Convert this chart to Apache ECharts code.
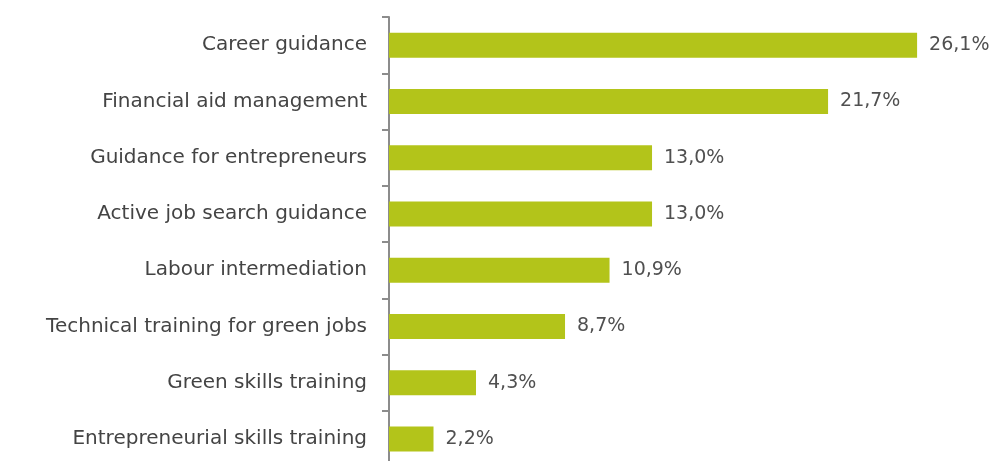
<!DOCTYPE html>
<html>
<head>
<meta charset="utf-8">
<script src="https://cdn.jsdelivr.net/npm/echarts@6/dist/echarts.min.js"></script>
<style>
html,body{margin:0;padding:0;background:#fff;}
#chart{width:994px;height:461px;}
</style>
</head>
<body>
<div id="chart"></div>
<script>
var categories = [
    'Career guidance',
    'Financial aid management',
    'Guidance for entrepreneurs',
    'Active job search guidance',
    'Labour intermediation',
    'Technical training for green jobs',
    'Green skills training',
    'Entrepreneurial skills training'
];
var values = [26.1, 21.7, 13.0, 13.0, 10.9, 8.7, 4.3, 2.2];

var myChart = echarts.init(document.getElementById('chart'));
var option = {
    animation: false,
    grid: {
        left: 389,
        top: 17,
        width: 607,
        height: 450,
        outerBoundsMode: 'none',
        containLabel: false
    },
    xAxis: {
        type: 'value',
        min: 0,
        max: 30,
        show: false
    },
    yAxis: {
        type: 'category',
        inverse: true,
        data: categories,
        axisLine: {show: true, lineStyle: {color: '#8c8c8c', width: 2}},
        axisTick: {show: true, length: 7, lineStyle: {color: '#8c8c8c', width: 2}},
        axisLabel: {
            margin: 22,
            fontSize: 20,
            color: '#444444',
            fontFamily: 'DejaVu Sans'
        }
    },
    series: [{
        type: 'bar',
        data: values,
        barWidth: 25,
        itemStyle: {color: '#b3c41a'},
        label: {
            show: true,
            position: 'right',
            distance: 12,
            fontSize: 19,
            color: '#505050',
            fontFamily: 'DejaVu Sans',
            formatter: function (p) {
                return p.value.toFixed(1).replace('.', ',') + '%';
            }
        }
    }]
};
myChart.setOption(option);
</script>
</body>
</html>
